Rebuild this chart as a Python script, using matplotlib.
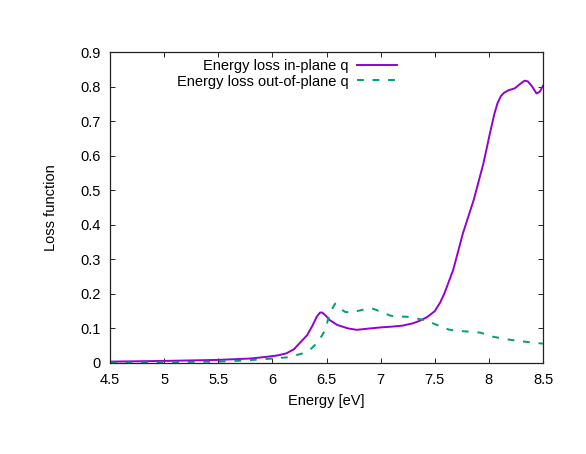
import matplotlib
matplotlib.use("Agg")
import matplotlib.pyplot as plt

plt.rcParams["font.family"] = ["Liberation Sans", "DejaVu Sans"]

# in-plane q loss function
e_in = [4.5, 5.0, 5.5, 5.8, 5.95, 6.05, 6.13, 6.2, 6.25, 6.32, 6.37, 6.41, 6.44, 6.46, 6.49,
        6.53, 6.6, 6.7, 6.78, 6.9, 7.0, 7.09, 7.2, 7.3, 7.36, 7.43, 7.5, 7.55,
        7.59, 7.67, 7.76, 7.86, 7.95, 8.01, 8.05, 8.08, 8.11, 8.14, 8.18, 8.24, 8.29,
        8.33, 8.36, 8.4, 8.44, 8.47, 8.5]
loss_in = [0.004, 0.006, 0.009, 0.013, 0.018, 0.022, 0.028, 0.04, 0.057, 0.08, 0.108, 0.134, 0.146, 0.146, 0.138,
           0.124, 0.11, 0.1, 0.096, 0.1, 0.103, 0.105, 0.108, 0.115, 0.122, 0.133, 0.15, 0.175,
           0.202, 0.269, 0.375, 0.472, 0.578, 0.665, 0.72, 0.752, 0.772, 0.782, 0.789, 0.795, 0.808,
           0.817, 0.815, 0.8, 0.78, 0.785, 0.802]

# out-of-plane q loss function
e_out = [4.5, 5.0, 5.5, 5.73, 6.01, 6.16, 6.28, 6.36, 6.41, 6.46, 6.49, 6.53, 6.58,
         6.62, 6.67, 6.72, 6.78, 6.85, 6.92, 6.99, 7.09, 7.16, 7.24, 7.32, 7.39,
         7.46, 7.52, 7.58, 7.64, 7.72, 7.8, 7.92, 7.98, 8.04, 8.12, 8.2, 8.3, 8.38, 8.5]
loss_out = [0.001, 0.002, 0.004, 0.007, 0.013, 0.017, 0.028, 0.042, 0.057, 0.08, 0.098, 0.144, 0.172,
            0.16, 0.148, 0.146, 0.15, 0.155, 0.158, 0.15, 0.137, 0.134, 0.134, 0.13, 0.125,
            0.118, 0.11, 0.102, 0.096, 0.093, 0.091, 0.088, 0.082, 0.076, 0.071, 0.067, 0.063, 0.06, 0.056]

xticks = [4.5, 5, 5.5, 6, 6.5, 7, 7.5, 8, 8.5]
xlabels = ["4.5", "5", "5.5", "6", "6.5", "7", "7.5", "8", "8.5"]
yticks = [0, 0.1, 0.2, 0.3, 0.4, 0.5, 0.6, 0.7, 0.8, 0.9]
ylabels = ["0", "0.1", "0.2", "0.3", "0.4", "0.5", "0.6", "0.7", "0.8", "0.9"]

fig = plt.figure(figsize=(5.86, 4.54), dpi=100)
ax = fig.add_axes([110 / 586, 91 / 454, 433 / 586, 311 / 454])

ax.plot(e_in, loss_in, color="#9400d3", lw=1.4, label="Energy loss in-plane q")
ax.plot(e_out, loss_out, color="#009e73", lw=1.4, dashes=(3.5, 4.5),
        label="Energy loss out-of-plane q")

ax.set_xlim(4.5, 8.5)
ax.set_ylim(0, 0.9)
ax.set_xticks(xticks)
ax.set_xticklabels(xlabels)
ax.set_yticks(yticks)
ax.set_yticklabels(ylabels)
ax.tick_params(direction="in", length=3.5, width=0.6, top=True, right=True,
               labelsize=10.5, colors="black", pad=7)
for s in ax.spines.values():
    s.set_linewidth(0.9)
    s.set_color("#222222")

ax.set_xlabel("Energy [eV]", fontsize=10.5, labelpad=5)
ax.set_ylabel("Loss function", fontsize=10.5, labelpad=16)

ax.legend(loc="upper right", bbox_to_anchor=(0.686, 1.01), frameon=False,
          markerfirst=False, fontsize=10.5, handlelength=2.7, handletextpad=0.6,
          labelspacing=0.1, borderpad=0.2, alignment="right")

fig.savefig("out.png", dpi=100)
